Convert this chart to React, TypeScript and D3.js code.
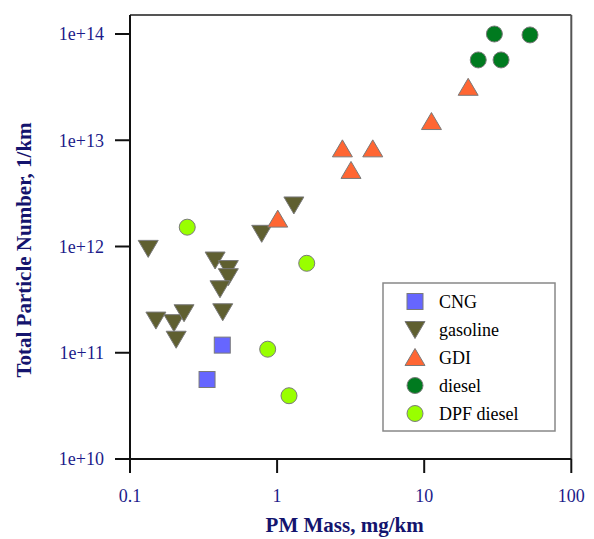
import * as d3 from "d3";

// PM mass (mg/km) and total particle number (1/km)
const cngMass = [0.424, 0.334];
const cngNumber = [1.18e11, 5.6e10];

const gasolineMass = [0.133, 0.379, 0.466, 0.466, 0.409, 0.427, 0.15, 0.199, 0.233, 0.206, 0.786, 1.3];
const gasolineNumber = [9.6e11, 7.46e11, 6.2e11, 5.2e11, 4.0e11, 2.43e11, 2.03e11, 1.92e11, 2.38e11, 1.34e11, 1.33e12, 2.46e12];

const gdiMass = [19.9, 11.2, 2.78, 4.47, 3.18, 1.01];
const gdiNumber = [3.15e13, 1.5e13, 8.3e12, 8.3e12, 5.2e12, 1.81e12];

const dieselMass = [30.0, 52.4, 23.3, 33.3];
const dieselNumber = [1.0e14, 9.8e13, 5.7e13, 5.7e13];

const dpfMass = [0.245, 1.59, 0.863, 1.205];
const dpfNumber = [1.52e12, 6.95e11, 1.08e11, 3.94e10];

const xTicks = [0.1, 1, 10, 100];
const xTickLabels = ["0.1", "1", "10", "100"];
const yTicks = [1e10, 1e11, 1e12, 1e13, 1e14];
const yTickLabels = ["1e+10", "1e+11", "1e+12", "1e+13", "1e+14"];

const seriesNames = ["CNG", "gasoline", "GDI", "diesel", "DPF diesel"];
const seriesShapes = ["square", "down", "up", "circle", "circle"];
const seriesColors = ["#6666ff", "#5f5f30", "#ff6633", "#007a1f", "#99ff00"];

const W = 594;
const H = 539;

function Marker({ shape, x, y, fill }: { shape: string; x: number; y: number; fill: string }) {
  const stroke = "#7a7a7a";
  if (shape === "square") {
    return <rect x={x - 8} y={y - 8} width={16} height={16} fill={fill} stroke={stroke} strokeWidth={1} />;
  }
  if (shape === "circle") {
    return <circle cx={x} cy={y} r={8} fill={fill} stroke={stroke} strokeWidth={1} />;
  }
  if (shape === "down") {
    return (
      <path
        d={`M${x - 10},${y - 8}L${x + 10},${y - 8}L${x},${y + 9}Z`}
        fill={fill}
        stroke={stroke}
        strokeWidth={1}
      />
    );
  }
  return (
    <path
      d={`M${x - 10},${y + 8}L${x + 10},${y + 8}L${x},${y - 9}Z`}
      fill={fill}
      stroke={stroke}
      strokeWidth={1}
    />
  );
}

export default function App() {
  const left = 130;
  const right = 571.3;
  const top = 15;
  const bottom = 459;

  const x = d3.scaleLog().domain([0.1, 100]).range([left, right]);
  const y = d3.scaleLog().domain([1e10, 1e14]).range([bottom, 34]);

  const series = [
    { mass: cngMass, num: cngNumber },
    { mass: gasolineMass, num: gasolineNumber },
    { mass: gdiMass, num: gdiNumber },
    { mass: dieselMass, num: dieselNumber },
    { mass: dpfMass, num: dpfNumber },
  ];

  const tickColor = "#1c1c8a";
  const titleColor = "#14146e";
  const font = "'Liberation Serif', 'Times New Roman', serif";

  return (
    <div style={{ position: "absolute", left: 0, top: 0 }}>
      <svg width={W} height={H} style={{ display: "block", background: "#fff" }}>
        {/* frame */}
        <line x1={left} y1={top} x2={right} y2={top} stroke="#555" strokeWidth={2} />
        <line x1={right} y1={top} x2={right} y2={bottom} stroke="#555" strokeWidth={2} />
        <line x1={left} y1={top} x2={left} y2={bottom + 14} stroke="#111" strokeWidth={2} />
        <line x1={left - 15} y1={bottom} x2={right} y2={bottom} stroke="#111" strokeWidth={2} />

        {/* y ticks */}
        {yTicks.map((t, i) => (
          <g key={"y" + i}>
            <line x1={left - 15} x2={left} y1={y(t)} y2={y(t)} stroke="#111" strokeWidth={2} />
            <text
              x={104}
              y={y(t)}
              dy="0.35em"
              textAnchor="end"
              fontFamily={font}
              fontSize={18}
              fill={tickColor}
            >
              {yTickLabels[i]}
            </text>
          </g>
        ))}

        {/* x ticks */}
        {xTicks.map((t, i) => (
          <g key={"x" + i}>
            <line x1={x(t)} x2={x(t)} y1={bottom} y2={bottom + 14} stroke="#111" strokeWidth={2} />
            <text
              x={x(t)}
              y={502}
              textAnchor="middle"
              fontFamily={font}
              fontSize={18}
              fill={tickColor}
            >
              {xTickLabels[i]}
            </text>
          </g>
        ))}

        {/* axis titles */}
        <text
          x={(left + right) / 2 - 6}
          y={532}
          textAnchor="middle"
          fontFamily={font}
          fontSize={21}
          fontWeight="bold"
          fill={titleColor}
        >
          PM Mass, mg/km
        </text>
        <text
          transform={`translate(31,250) rotate(-90)`}
          textAnchor="middle"
          fontFamily={font}
          fontSize={21}
          fontWeight="bold"
          fill={titleColor}
        >
          Total Particle Number, 1/km
        </text>

        {/* points */}
        {series.map((s, si) =>
          s.mass.map((m, j) => (
            <Marker
              key={si + "-" + j}
              shape={seriesShapes[si]}
              x={x(m)}
              y={y(s.num[j])}
              fill={seriesColors[si]}
            />
          ))
        )}

        {/* legend */}
        <rect x={383} y={283} width={172} height={148} fill="#fff" stroke="#888" strokeWidth={1.5} />
        {seriesNames.map((name, i) => (
          <g key={"l" + i}>
            <Marker shape={seriesShapes[i]} x={415} y={301.5 + i * 28} fill={seriesColors[i]} />
            <text
              x={439}
              y={301.5 + i * 28}
              dy="0.35em"
              fontFamily={font}
              fontSize={18}
              fill="#000"
            >
              {name}
            </text>
          </g>
        ))}
      </svg>
    </div>
  );
}
